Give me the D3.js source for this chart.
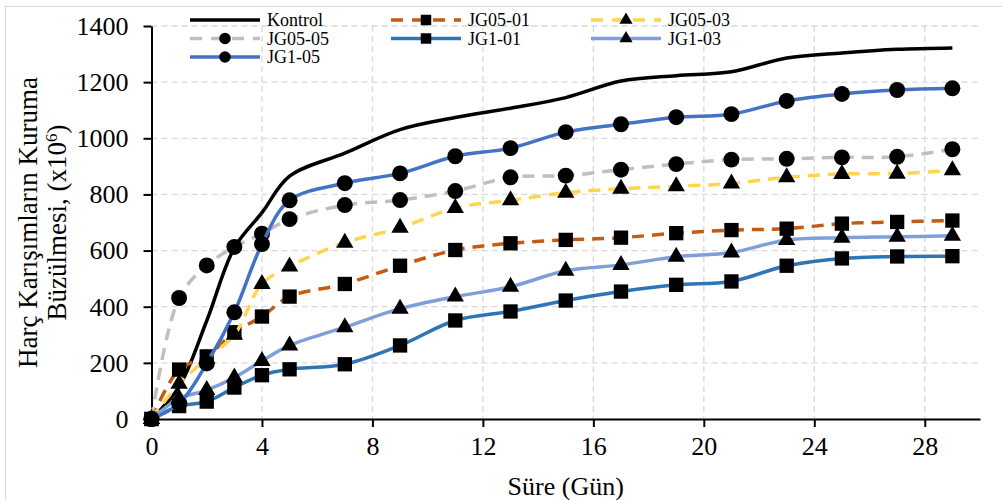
<!DOCTYPE html>
<html>
<head>
<meta charset="utf-8">
<script src="https://cdn.jsdelivr.net/npm/d3@7"></script>
<style>
  body { margin: 0; background: #fff; }
  svg { display: block; font-family: "Liberation Serif", "Times New Roman", serif; }
</style>
</head>
<body>
<svg></svg>
<script>
// days of measurement
const days = [0, 1, 2, 3, 4, 5, 7, 9, 11, 13, 15, 17, 19, 21, 23, 25, 27, 29];

// shrinkage values (x10^6)
const kontrol = [0, 115, 350, 610, 735, 865, 947, 1031, 1074, 1107, 1145, 1204, 1223, 1237, 1286, 1304, 1317, 1322];
const jg0501 = [0, 176, 223, 309, 365, 436, 481, 546, 602, 626, 638, 646, 662, 673, 678, 696, 702, 707];
const jg0503 = [0, 126, 215, 300, 481, 543, 628, 681, 752, 779, 806, 820, 829, 839, 861, 873, 874, 886];
const jg0505 = [0, 431, 547, 613, 660, 712, 762, 780, 812, 861, 867, 888, 908, 924, 927, 932, 934, 961];
const jg101 = [0, 46, 62, 112, 156, 177, 195, 262, 351, 383, 422, 454, 478, 490, 546, 572, 579, 580];
const jg103 = [0, 73, 103, 148, 207, 262, 327, 393, 436, 471, 528, 549, 578, 593, 638, 646, 649, 653];
const jg105 = [0, 55, 198, 380, 623, 779, 840, 875, 936, 965, 1022, 1050, 1075, 1086, 1133, 1158, 1172, 1178];

const xTicks = [0, 4, 8, 12, 16, 20, 24, 28];
const yTicks = [0, 200, 400, 600, 800, 1000, 1200, 1400];

const series = [
  { name: "Kontrol", values: kontrol, color: "#000000", dash: null, marker: null },
  { name: "JG05-01", values: jg0501, color: "#C55A11", dash: "12,8", marker: d3.symbolSquare },
  { name: "JG05-03", values: jg0503, color: "#FFD54F", dash: "12,8", marker: d3.symbolTriangle },
  { name: "JG05-05", values: jg0505, color: "#BFBFBF", dash: "12,8", marker: d3.symbolCircle },
  { name: "JG1-01", values: jg101, color: "#2E75B6", dash: null, marker: d3.symbolSquare },
  { name: "JG1-03", values: jg103, color: "#7F9FDB", dash: null, marker: d3.symbolTriangle },
  { name: "JG1-05", values: jg105, color: "#4472C4", dash: null, marker: d3.symbolCircle }
];

const W = 1002, H = 500;
const margin = { top: 26, right: 22, bottom: 81, left: 151.5 };
const width = W - margin.left - margin.right;
const height = H - margin.top - margin.bottom;

const root = d3.select("svg").attr("width", W).attr("height", H);

// outer chart frame
root.append("rect")
  .attr("x", 5.5).attr("y", 6.5)
  .attr("width", 1100).attr("height", 600)
  .attr("fill", "none").attr("stroke", "#d9d9d9").attr("stroke-width", 1);

const svg = root.append("g").attr("transform", `translate(${margin.left},${margin.top})`);

const x = d3.scaleLinear().domain([0, 30]).range([0, width]);
const y = d3.scaleLinear().domain([0, 1400]).range([height, 0]);

// gridlines
svg.append("g").selectAll("line")
  .data(yTicks.filter(d => d > 0))
  .join("line")
  .attr("x1", 0).attr("x2", width)
  .attr("y1", d => y(d)).attr("y2", d => y(d))
  .attr("stroke", "#d9d9d9").attr("stroke-width", 1.3).attr("stroke-dasharray", "6,4");

svg.append("g").selectAll("line")
  .data(xTicks.filter(d => d > 0))
  .join("line")
  .attr("x1", d => x(d)).attr("x2", d => x(d))
  .attr("y1", 0).attr("y2", height)
  .attr("stroke", "#d9d9d9").attr("stroke-width", 1.3).attr("stroke-dasharray", "6,4");

// axes
const xAxis = d3.axisBottom(x).tickValues(xTicks).tickSize(8).tickPadding(10).tickSizeOuter(0);
const yAxis = d3.axisLeft(y).tickValues(yTicks).tickFormat(d3.format("d"))
  .tickSize(8).tickPadding(15).tickSizeOuter(0);

const gx = svg.append("g").attr("transform", `translate(0,${height})`).call(xAxis);
const gy = svg.append("g").call(yAxis);
[gx, gy].forEach(g => {
  g.attr("font-family", null);
  g.select(".domain").attr("stroke", "#000").attr("stroke-width", 2);
  g.selectAll(".tick line").attr("stroke", "#000").attr("stroke-width", 2);
  g.selectAll(".tick text")
    .attr("fill", "#000")
    .style("font-family", "'Liberation Serif', serif")
    .style("font-size", "26px");
});

// series
const line = d3.line()
  .x((d, i) => x(days[i]))
  .y(d => y(d))
  .curve(d3.curveCatmullRom.alpha(0.5));

series.forEach(s => {
  svg.append("path")
    .attr("d", line(s.values))
    .attr("fill", "none")
    .attr("stroke", s.color)
    .attr("stroke-width", 3.5)
    .attr("stroke-dasharray", s.dash);

  if (s.marker) {
    const size = s.marker === d3.symbolSquare ? 205 : s.marker === d3.symbolCircle ? 200 : 130;
    svg.append("g").selectAll("path")
      .data(s.values)
      .join("path")
      .attr("transform", (d, i) => `translate(${x(days[i])},${y(d)})`)
      .attr("d", d3.symbol(s.marker, size))
      .attr("fill", "#000");
  }
});

// axis titles
root.append("text")
  .attr("x", margin.left + x(15)).attr("y", 495)
  .attr("text-anchor", "middle")
  .style("font-size", "26px")
  .text("Süre (Gün)");

const yt = root.append("text")
  .attr("transform", `translate(0,${margin.top + height / 2}) rotate(-90)`)
  .attr("text-anchor", "middle")
  .style("font-size", "27px");
yt.append("tspan").attr("x", 0).attr("y", 37).text("Harç Karışımların Kuruma");
const t2 = yt.append("tspan").attr("x", 0).attr("y", 66);
t2.append("tspan").text("Büzülmesi, (x10");
t2.append("tspan").attr("dy", -9).style("font-size", "17px").text("6");
t2.append("tspan").attr("dy", 9).text(")");

// legend
const legCols = [190, 391, 591];
const legRows = [20, 38.5, 57];
const legend = root.append("g");
series.forEach((s, i) => {
  const lx = legCols[i % 3], ly = legRows[Math.floor(i / 3)];
  const item = legend.append("g").attr("transform", `translate(${lx},${ly})`);
  item.append("line")
    .attr("x1", 0).attr("x2", 70).attr("y1", 0).attr("y2", 0)
    .attr("stroke", s.color).attr("stroke-width", 3.5)
    .attr("stroke-dasharray", s.dash ? "12,9" : null);
  if (s.marker) {
    const size = s.marker === d3.symbolSquare ? 110 : s.marker === d3.symbolCircle ? 105 : 75;
    item.append("path")
      .attr("transform", "translate(35,0)")
      .attr("d", d3.symbol(s.marker, size))
      .attr("fill", "#000");
  }
  item.append("text")
    .attr("x", 77).attr("y", 0).attr("dy", "0.35em")
    .style("font-size", "18px")
    .text(s.name);
});
</script>
</body>
</html>
